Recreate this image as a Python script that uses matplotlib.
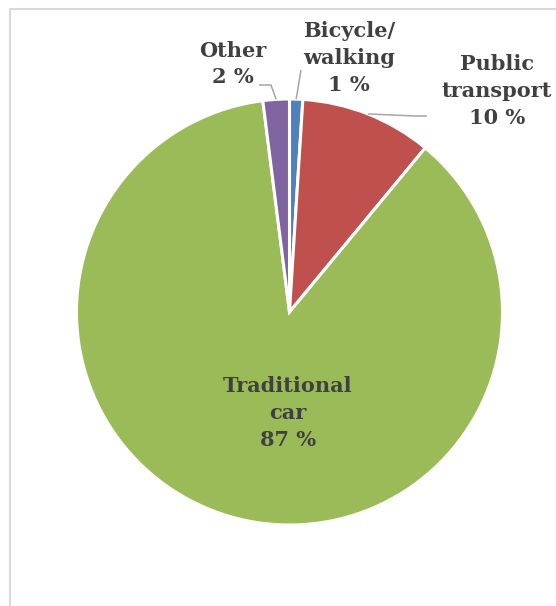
import numpy as np
import matplotlib

matplotlib.use("Agg")
import matplotlib.pyplot as plt

# commuting mode shares (%), clockwise from 12 o'clock
modes = ["Bicycle/\nwalking", "Public\ntransport", "Traditional\ncar", "Other"]
shares = [1, 10, 87, 2]
colors = ["#4F81BD", "#C0504D", "#9BBB59", "#8064A2"]

W, H = 556, 606
TEXT = "#404040"

fig = plt.figure(figsize=(W / 100, H / 100), dpi=100)
ax = fig.add_axes([0, 0, 1, 1])
ax.set_xlim(0, W)
ax.set_ylim(0, H)
ax.set_aspect("equal")
ax.axis("off")

cx, cy, r = 289.5, H - 312, 213

wedges, _ = ax.pie(
    shares, colors=colors, startangle=90, counterclock=False,
    center=(cx, cy), radius=r, frame=True,
    wedgeprops=dict(edgecolor="white", linewidth=2.2),
)
ax.set_xlim(0, W)
ax.set_ylim(0, H)
ax.axis("off")

font = dict(family="DejaVu Serif", weight="bold", fontsize=15,
            color=TEXT, ha="center", va="center", linespacing=1.42)


def edge_point(w, frac=1.0):
    mid = np.deg2rad((w.theta1 + w.theta2) / 2)
    return cx + frac * r * np.cos(mid), cy + frac * r * np.sin(mid)


def label(i, x, y_px):
    ax.text(x, H - y_px, f"{modes[i]}\n{shares[i]} %", **font)


label(0, 349, 58)
label(1, 497, 91)
label(2, 288, 413)
label(3, 233, 64)

lead = dict(color="#a6a6a6", linewidth=1.1, solid_capstyle="butt")

# Bicycle/walking leader
x0, y0 = edge_point(wedges[0], 1.0)
ax.plot([x0, 301], [y0, H - 70], **lead)

# Public transport leader
x0, y0 = edge_point(wedges[1], 1.0)
ax.plot([x0, 415, 427], [y0, H - 116, H - 116], **lead)

# Other leader
x0, y0 = edge_point(wedges[3], 1.0)
ax.plot([259, 271, x0], [H - 85, H - 85, y0], **lead)

# chart-area border (clipped at right and bottom)
ax.plot([9.5, 9.5, W + 5], [-5, H - 8.5, H - 8.5], color="#d9d9d9",
        linewidth=1.5, clip_on=False)

fig.savefig("out.png", dpi=100)
